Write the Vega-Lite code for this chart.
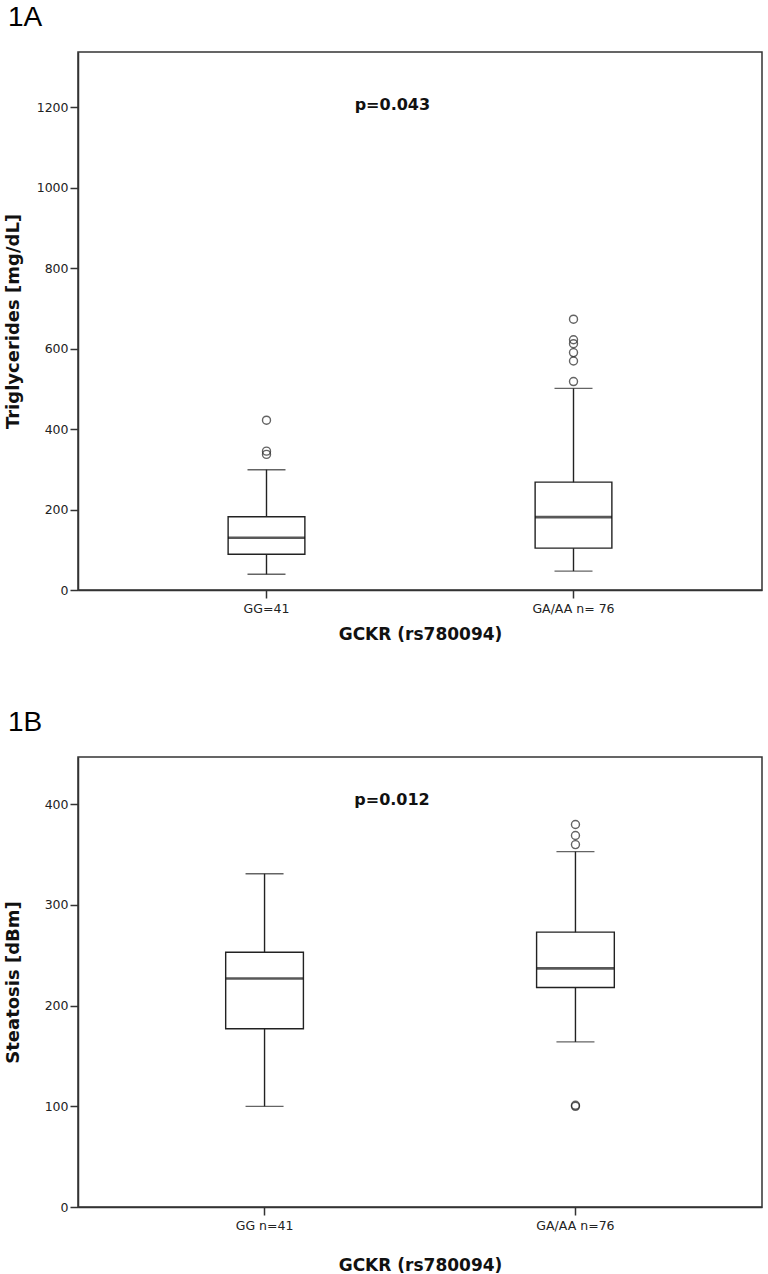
{
  "$schema": "https://vega.github.io/schema/vega-lite/v6.json",
  "background": "white",
  "padding": {"left": 3, "top": 3, "right": 0, "bottom": 0},
  "spacing": 64,
  "datasets": {
    "boxA": [
      {"group": "GG=41", "lower": 39, "q1": 89, "median": 130, "q3": 182, "upper": 299},
      {"group": "GA/AA n= 76", "lower": 47, "q1": 104, "median": 181, "q3": 268, "upper": 501}
    ],
    "outA": [
      {"group": "GG=41", "value": 337},
      {"group": "GG=41", "value": 345},
      {"group": "GG=41", "value": 422},
      {"group": "GA/AA n= 76", "value": 518},
      {"group": "GA/AA n= 76", "value": 569},
      {"group": "GA/AA n= 76", "value": 590},
      {"group": "GA/AA n= 76", "value": 612},
      {"group": "GA/AA n= 76", "value": 622},
      {"group": "GA/AA n= 76", "value": 673}
    ],
    "pA": [{"group": "GG=41", "y": 1205, "label": "p=0.043"}],
    "boxB": [
      {"group": "GG n=41", "lower": 100, "q1": 177, "median": 227, "q3": 253, "upper": 331},
      {"group": "GA/AA n=76", "lower": 164, "q1": 218, "median": 237, "q3": 273, "upper": 353}
    ],
    "outB": [
      {"group": "GA/AA n=76", "value": 100},
      {"group": "GA/AA n=76", "value": 101},
      {"group": "GA/AA n=76", "value": 360},
      {"group": "GA/AA n=76", "value": 369},
      {"group": "GA/AA n=76", "value": 380}
    ],
    "pB": [{"group": "GG n=41", "y": 404, "label": "p=0.012"}]
  },
  "vconcat": [
    {
      "width": 684,
      "height": 538,
      "title": {"text": "1A", "anchor": "start", "frame": "group", "dx": -70, "offset": 20},
      "encoding": {
        "x": {
          "field": "group", "type": "nominal",
          "sort": ["GG=41", "GA/AA n= 76"],
          "scale": {"type": "band", "paddingInner": 0, "paddingOuter": 0.114},
          "axis": {"title": "GCKR (rs780094)", "titlePadding": 12, "labelAngle": 0}
        }
      },
      "layer": [
        {
          "data": {"name": "boxA"},
          "mark": {"type": "rule", "color": "#222", "strokeWidth": 1.4},
          "encoding": {
            "y": {"field": "lower", "type": "quantitative", "scale": {"domain": [0, 1337], "nice": false, "zero": false},
                  "axis": {"values": [0, 200, 400, 600, 800, 1000, 1200], "format": "d", "titlePadding": 16, "minExtent": 40, "maxExtent": 40},
                  "title": "Triglycerides [mg/dL]"},
            "y2": {"field": "upper"}
          }
        },
        {
          "data": {"name": "boxA"},
          "mark": {"type": "tick", "color": "#222", "thickness": 1.4, "size": 38},
          "encoding": {"y": {"field": "lower", "type": "quantitative", "scale": {"domain": [0, 1337], "nice": false, "zero": false}, "title": "Triglycerides [mg/dL]"}}
        },
        {
          "data": {"name": "boxA"},
          "mark": {"type": "tick", "color": "#222", "thickness": 1.4, "size": 38},
          "encoding": {"y": {"field": "upper", "type": "quantitative", "scale": {"domain": [0, 1337], "nice": false, "zero": false}, "title": "Triglycerides [mg/dL]"}}
        },
        {
          "data": {"name": "boxA"},
          "mark": {"type": "bar", "fill": "white", "stroke": "#222", "strokeWidth": 1.4, "width": {"band": 0.25}},
          "encoding": {
            "y": {"field": "q1", "type": "quantitative", "scale": {"domain": [0, 1337], "nice": false, "zero": false}, "title": "Triglycerides [mg/dL]"},
            "y2": {"field": "q3"}
          }
        },
        {
          "data": {"name": "boxA"},
          "mark": {"type": "tick", "color": "#111", "thickness": 2.6, "size": 77},
          "encoding": {"y": {"field": "median", "type": "quantitative", "scale": {"domain": [0, 1337], "nice": false, "zero": false}, "title": "Triglycerides [mg/dL]"}}
        },
        {
          "data": {"name": "outA"},
          "mark": {"type": "point", "shape": "circle", "filled": false, "color": "#222", "size": 64, "strokeWidth": 1.4},
          "encoding": {"y": {"field": "value", "type": "quantitative", "scale": {"domain": [0, 1337], "nice": false, "zero": false}, "title": "Triglycerides [mg/dL]"}}
        },
        {
          "data": {"name": "pA"},
          "mark": {"type": "text", "font": "DejaVu Sans", "fontSize": 16, "fontWeight": "bold", "color": "#111", "align": "center", "baseline": "middle"},
          "encoding": {
            "x": {"field": "group", "type": "nominal", "sort": ["GG=41", "GA/AA n= 76"], "bandPosition": 0.91},
            "y": {"field": "y", "type": "quantitative", "scale": {"domain": [0, 1337], "nice": false, "zero": false}, "title": "Triglycerides [mg/dL]"},
            "text": {"field": "label"}
          }
        }
      ]
    },
    {
      "width": 684,
      "height": 450,
      "title": {"text": "1B", "anchor": "start", "frame": "group", "dx": -70, "offset": 20},
      "encoding": {
        "x": {
          "field": "group", "type": "nominal",
          "sort": ["GG n=41", "GA/AA n=76"],
          "scale": {"type": "band", "paddingInner": 0, "paddingOuter": 0.1},
          "axis": {"title": "GCKR (rs780094)", "titlePadding": 26, "labelAngle": 0}
        }
      },
      "layer": [
        {
          "data": {"name": "boxB"},
          "mark": {"type": "rule", "color": "#222", "strokeWidth": 1.4},
          "encoding": {
            "y": {"field": "lower", "type": "quantitative", "scale": {"domain": [0, 447], "nice": false, "zero": false},
                  "axis": {"values": [0, 100, 200, 300, 400], "format": "d", "titlePadding": 24, "minExtent": 32, "maxExtent": 32},
                  "title": "Steatosis [dBm]"},
            "y2": {"field": "upper"}
          }
        },
        {
          "data": {"name": "boxB"},
          "mark": {"type": "tick", "color": "#222", "thickness": 1.4, "size": 38},
          "encoding": {"y": {"field": "lower", "type": "quantitative", "scale": {"domain": [0, 447], "nice": false, "zero": false}, "title": "Steatosis [dBm]"}}
        },
        {
          "data": {"name": "boxB"},
          "mark": {"type": "tick", "color": "#222", "thickness": 1.4, "size": 38},
          "encoding": {"y": {"field": "upper", "type": "quantitative", "scale": {"domain": [0, 447], "nice": false, "zero": false}, "title": "Steatosis [dBm]"}}
        },
        {
          "data": {"name": "boxB"},
          "mark": {"type": "bar", "fill": "white", "stroke": "#222", "strokeWidth": 1.4, "width": {"band": 0.25}},
          "encoding": {
            "y": {"field": "q1", "type": "quantitative", "scale": {"domain": [0, 447], "nice": false, "zero": false}, "title": "Steatosis [dBm]"},
            "y2": {"field": "q3"}
          }
        },
        {
          "data": {"name": "boxB"},
          "mark": {"type": "tick", "color": "#111", "thickness": 2.6, "size": 77},
          "encoding": {"y": {"field": "median", "type": "quantitative", "scale": {"domain": [0, 447], "nice": false, "zero": false}, "title": "Steatosis [dBm]"}}
        },
        {
          "data": {"name": "outB"},
          "mark": {"type": "point", "shape": "circle", "filled": false, "color": "#222", "size": 64, "strokeWidth": 1.4},
          "encoding": {"y": {"field": "value", "type": "quantitative", "scale": {"domain": [0, 447], "nice": false, "zero": false}, "title": "Steatosis [dBm]"}}
        },
        {
          "data": {"name": "pB"},
          "mark": {"type": "text", "font": "DejaVu Sans", "fontSize": 16, "fontWeight": "bold", "color": "#111", "align": "center", "baseline": "middle"},
          "encoding": {
            "x": {"field": "group", "type": "nominal", "sort": ["GG n=41", "GA/AA n=76"], "bandPosition": 0.91},
            "y": {"field": "y", "type": "quantitative", "scale": {"domain": [0, 447], "nice": false, "zero": false}, "title": "Steatosis [dBm]"},
            "text": {"field": "label"}
          }
        }
      ]
    }
  ],
  "config": {
    "view": {"stroke": "#333", "strokeWidth": 1.5},
    "title": {"font": "Liberation Sans", "fontSize": 28, "fontWeight": "normal", "color": "#000"},
    "axis": {
      "grid": false,
      "domainColor": "#333", "domainWidth": 1.5,
      "tickColor": "#333", "tickWidth": 1.5, "tickSize": 8,
      "labelFont": "DejaVu Sans", "labelFontSize": 12.5, "labelColor": "#222", "labelPadding": 2,
      "titleFont": "DejaVu Sans", "titleFontSize": 17, "titleFontWeight": "bold", "titleColor": "#111"
    },
    "axisY": {"titleFontSize": 18},
    "axisX": {"labelPadding": 4}
  }
}
